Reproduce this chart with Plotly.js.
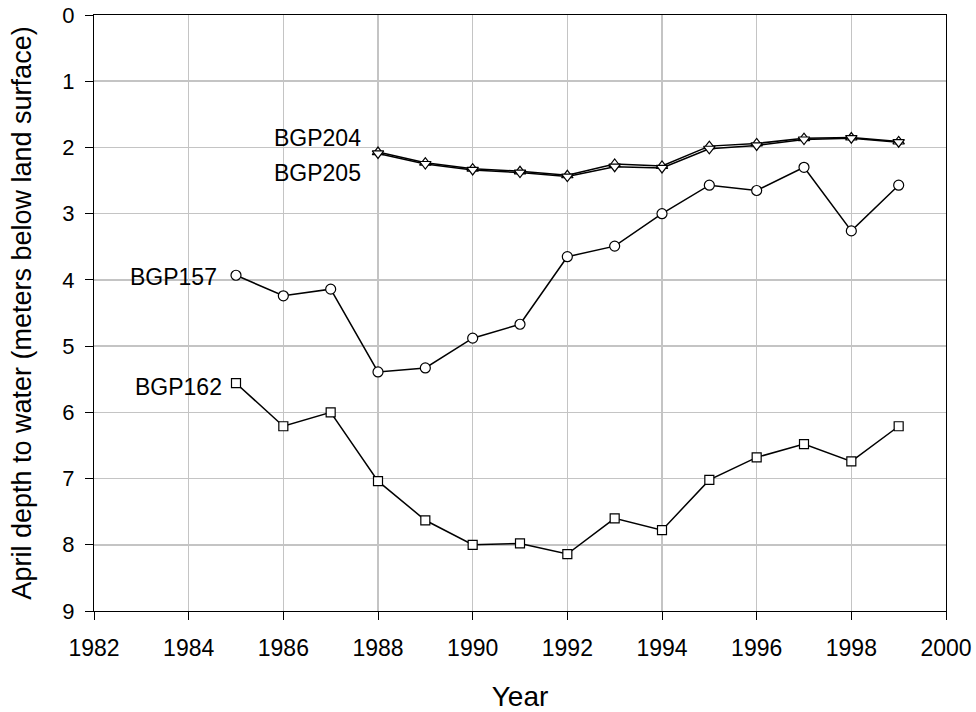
<!DOCTYPE html>
<html>
<head>
<meta charset="utf-8">
<script src="https://cdn.plot.ly/plotly-3.0.1.min.js"></script>
<style>
  html, body { margin: 0; padding: 0; background: #fff; }
  #plot { width: 976px; height: 712px; }
</style>
</head>
<body>
<div id="plot"></div>
<script>
// April depth to water for four wells
var years157 = [1985, 1986, 1987, 1988, 1989, 1990, 1991, 1992, 1993, 1994, 1995, 1996, 1997, 1998, 1999];
var bgp157 = [3.93, 4.24, 4.14, 5.39, 5.33, 4.88, 4.67, 3.65, 3.49, 3.00, 2.57, 2.65, 2.30, 3.26, 2.57];
var bgp162 = [5.56, 6.21, 6.00, 7.04, 7.63, 8.00, 7.98, 8.14, 7.60, 7.78, 7.02, 6.68, 6.48, 6.74, 6.21];

var years204 = [1988, 1989, 1990, 1991, 1992, 1993, 1994, 1995, 1996, 1997, 1998, 1999];
var bgp204 = [2.07, 2.23, 2.32, 2.36, 2.42, 2.25, 2.28, 1.98, 1.94, 1.86, 1.85, 1.91];
var bgp205 = [2.09, 2.25, 2.34, 2.38, 2.44, 2.29, 2.31, 2.02, 1.97, 1.88, 1.86, 1.92];

var wellLabels = ['BGP204', 'BGP205', 'BGP157', 'BGP162'];
var labelX = [1987.68, 1987.68, 1984.64, 1984.75];
var labelY = [1.86, 2.39, 3.96, 5.62];

function series(x, y, symbol, size) {
    return {
        x: x,
        y: y,
        mode: 'lines+markers',
        type: 'scatter',
        line: { color: '#000', width: 1.5 },
        marker: { symbol: symbol, size: size, color: '#fff', line: { color: '#000', width: 1.2 } },
        showlegend: false,
        hoverinfo: 'x+y'
    };
}

var data = [
    series(years157, bgp162, 'square', 9),
    series(years157, bgp157, 'circle', 10),
    series(years204, bgp204, 'triangle-up', 10),
    series(years204, bgp205, 'triangle-down', 10)
];

var annotations = wellLabels.map(function (t, i) {
    return {
        text: t, x: labelX[i], y: labelY[i], xref: 'x', yref: 'y',
        xanchor: 'right', yanchor: 'middle', showarrow: false,
        font: { size: 23, color: '#000' }
    };
});

var layout = {
    width: 976,
    height: 712,
    margin: { l: 94, r: 30, t: 15, b: 101 },
    paper_bgcolor: '#fff',
    plot_bgcolor: '#fff',
    font: { family: '"Liberation Sans", Arial, sans-serif', color: '#000' },
    xaxis: {
        range: [1982, 2000],
        dtick: 2,
        tick0: 1982,
        ticks: 'outside',
        ticklen: 8,
        tickcolor: '#000',
        tickfont: { size: 23 },
        ticklabelstandoff: 8,
        showgrid: true,
        gridcolor: '#c4c4c4',
        gridwidth: 1.5,
        showline: true,
        linecolor: '#000',
        linewidth: 1.2,
        mirror: true,
        zeroline: false,
        title: { text: 'Year', font: { size: 28 }, standoff: 30 }
    },
    yaxis: {
        range: [9, 0],
        dtick: 1,
        ticks: 'outside',
        ticklen: 8,
        tickcolor: '#000',
        tickfont: { size: 22 },
        ticklabelstandoff: 6,
        showgrid: true,
        gridcolor: '#c4c4c4',
        gridwidth: 1.5,
        showline: true,
        linecolor: '#000',
        linewidth: 1.2,
        mirror: true,
        zeroline: false,
        title: { text: 'April depth to water (meters below land surface)', font: { size: 27 }, standoff: 22 }
    },
    annotations: annotations
};

Plotly.newPlot('plot', data, layout, { displayModeBar: false, staticPlot: true });
</script>
</body>
</html>
